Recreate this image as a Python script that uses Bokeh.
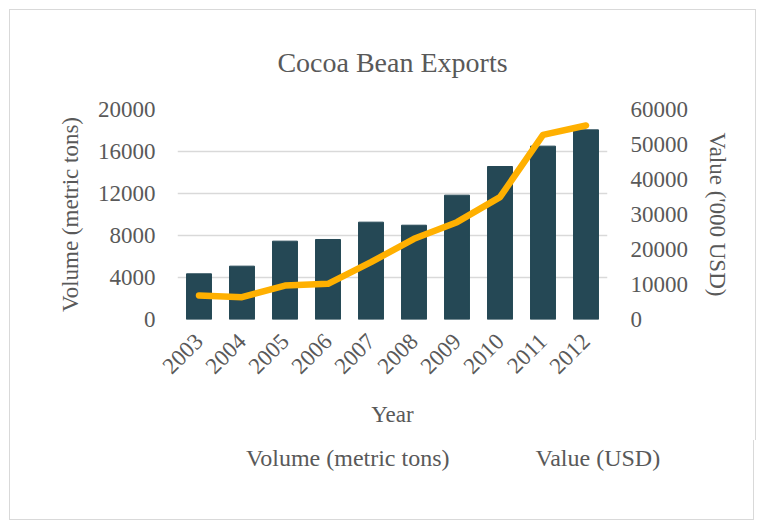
from bokeh.plotting import figure
from bokeh.models import (Range1d, LinearAxis, FixedTicker, Legend, LegendItem,
                          FactorRange, CDSView, IndexFilter)
from bokeh.embed import file_html
from bokeh.resources import INLINE
import math

years = ["2003", "2004", "2005", "2006", "2007", "2008", "2009", "2010", "2011", "2012"]
volume = [4350, 5080, 7460, 7620, 9270, 8980, 11840, 14570, 16510, 18060]
value_usd = [6860, 6380, 9710, 10190, 16380, 23050, 27810, 34950, 52760, 55430]
left_ticks = [0, 4000, 8000, 12000, 16000, 20000]
right_ticks = [0, 10000, 20000, 30000, 40000, 50000, 60000]

BAR = "#254855"
LINE = "#FFB000"
TXT = "#595959"
GRID = "#d9d9d9"
FONT = "Liberation Serif"
BORDER = "1px solid #d9d9d9"

p = figure(x_range=FactorRange(*years, range_padding=0), y_range=Range1d(0, 20000),
           frame_width=430, frame_height=210, height=430,
           min_border_left=167, min_border_right=148, min_border_top=99, min_border_bottom=121,
           output_backend="svg", toolbar_location=None,
           title="Cocoa Bean Exports",
           styles={"border": BORDER, "border-bottom": "none",
                   "margin-left": "9px", "margin-top": "9px"})
p.extra_y_ranges = {"val": Range1d(0, 60000)}

p.title.align = "center"
p.title.text_font = FONT
p.title.text_font_size = "28px"
p.title.text_font_style = "normal"
p.title.text_color = TXT
p.title.standoff = 64

p.outline_line_color = None
p.xgrid.grid_line_color = None
p.ygrid.grid_line_color = GRID
p.ygrid.grid_line_width = 1.5
p.ygrid.ticker = FixedTicker(ticks=left_ticks)

p.vbar(x=years, top=volume, width=0.58, color=BAR)
p.line(x=years, y=value_usd, y_range_name="val", color=LINE, line_width=6.5,
       line_join="round", line_cap="round")

yl = p.yaxis[0]
yl.ticker = FixedTicker(ticks=left_ticks)
yl.axis_label = "Volume (metric tons)"

yr = LinearAxis(y_range_name="val", ticker=FixedTicker(ticks=right_ticks),
                axis_label="Value ('000 USD)")
p.add_layout(yr, "right")

xa = p.xaxis[0]
xa.axis_label = "Year"
xa.major_label_orientation = math.pi / 4

for ax in (yl, yr, xa):
    ax.axis_line_color = None
    ax.major_tick_line_color = None
    ax.minor_tick_line_color = None
    ax.major_tick_out = 0
    ax.major_tick_in = 0
    ax.major_label_text_font = FONT
    ax.major_label_text_font_size = "23px"
    ax.major_label_text_color = TXT
    ax.axis_label_text_font = FONT
    ax.axis_label_text_font_size = "23px"
    ax.axis_label_text_font_style = "normal"
    ax.axis_label_text_color = TXT

yl.major_label_standoff = 22
yl.axis_label_standoff = 12
yr.major_label_standoff = 23
yr.axis_label_standoff = 14
xa.major_label_standoff = 18
xa.axis_label_standoff = 18

# legend strip below the chart: same series, with an empty view so only the legend shows
lg = figure(x_range=FactorRange(*years), y_range=Range1d(0, 60000),
            width=745, height=80, min_border=0,
            x_axis_type=None, y_axis_type=None,
            output_backend="svg", toolbar_location=None,
            styles={"border": BORDER, "border-top": "none", "margin-left": "9px"})
lg.outline_line_color = None
hide = CDSView(filter=IndexFilter(indices=[]))
lbars = lg.vbar(x=years, top=volume, width=0.58, color=BAR, view=hide)
lline = lg.line(x=years, y=value_usd, color=LINE, line_width=6.5,
                line_join="round", line_cap="round",
                view=CDSView(filter=IndexFilter(indices=[])))

legend = Legend(items=[LegendItem(label="Volume (metric tons)", renderers=[lbars]),
                       LegendItem(label="Value (USD)", renderers=[lline])],
                orientation="horizontal", location=(157, 48),
                glyph_width=72, glyph_height=13, label_standoff=7, spacing=7,
                padding=0, margin=0, border_line_color=None,
                background_fill_alpha=0,
                label_text_font=FONT, label_text_font_size="24px",
                label_text_color=TXT)
lg.add_layout(legend, "center")

open("out.html", "w").write(file_html([p, lg], INLINE))
